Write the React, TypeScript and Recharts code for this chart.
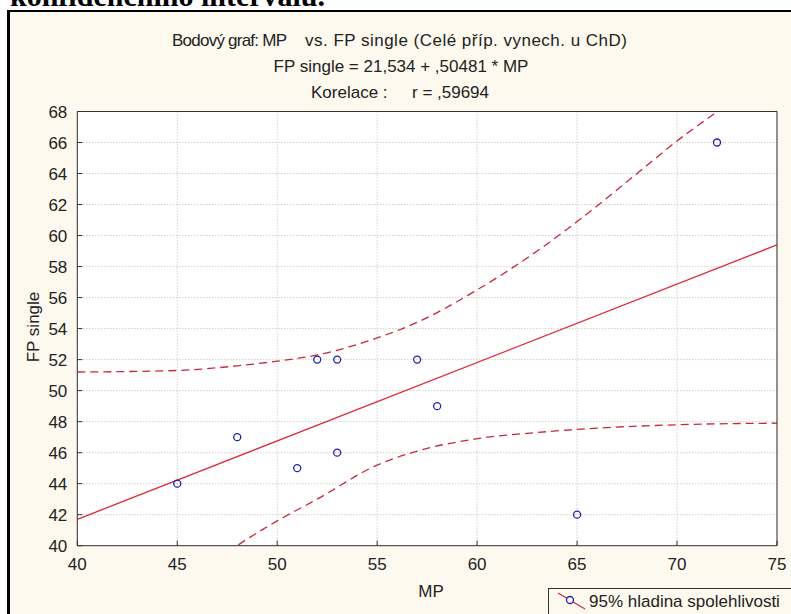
import React from "react";
import {
  ComposedChart,
  XAxis,
  YAxis,
  CartesianGrid,
  Line,
  Scatter,
} from "recharts";

// tick labels
const xTicks = [40, 45, 50, 55, 60, 65, 70, 75];
const yTicks = [40, 42, 44, 46, 48, 50, 52, 54, 56, 58, 60, 62, 64, 66, 68];

// observed cases (MP vs FP single)
const pointMP = [45, 48, 51, 52, 53, 53, 57, 58, 65, 72];
const pointFP = [44, 47, 45, 52, 52, 46, 52, 49, 42, 66];

// fitted line, read at the plot edges
const fitMP = [40, 75];
const fitFP = [41.7, 59.4];

// 95% band, upper and lower dashed curves
const upperMP = [40, 45, 48, 50, 52, 55, 57, 60, 63, 65, 68, 70, 72, 74];
const upperFP = [51.2, 51.3, 51.6, 51.9, 52.3, 53.4, 54.4, 56.5, 59.0, 60.9, 64.0, 66.1, 68.0, 70.0];
const lowerMP = [46, 48, 50, 52, 55, 57, 60, 63, 65, 70, 75];
const lowerFP = [38.0, 40.0, 41.6, 43.0, 45.2, 46.1, 46.9, 47.3, 47.5, 47.8, 47.9];

const zip = (xs: number[], ys: number[]) => xs.map((x, i) => ({ x, y: ys[i] }));

const points = zip(pointMP, pointFP);
const fit = zip(fitMP, fitFP);
const upper = zip(upperMP, upperFP);
const lower = zip(lowerMP, lowerFP);

const FONT = "'Liberation Sans', Arial, sans-serif";
const CREAM = "#fdf9ee";
const RED = "#dc2836";
const BAND = "#c8283c";
const BLUE = "#2020b0";
const AXIS = "#333";

const BottomTick = ({ x, y, payload }: any) => (
  <g>
    <line x1={x} x2={x} y1={y} y2={y - 5} stroke={AXIS} />
    <text x={x} y={y + 24} textAnchor="middle" fontSize={17} fontFamily={FONT} fill="#222">
      {payload.value}
    </text>
  </g>
);

const LeftTick = ({ x, y, payload }: any) => (
  <g>
    <line x1={x} x2={x + 5} y1={y} y2={y} stroke={AXIS} />
    <text x={x - 10} y={y + 6} textAnchor="end" fontSize={17} fontFamily={FONT} fill="#222">
      {payload.value}
    </text>
  </g>
);

const TopTick = ({ x, y }: any) => (
  <line x1={x} x2={x} y1={y} y2={y + 5} stroke={AXIS} />
);

const RightTick = ({ x, y }: any) => (
  <line x1={x} x2={x - 5} y1={y} y2={y} stroke={AXIS} />
);

const Dot = ({ cx, cy }: any) => (
  <circle cx={cx} cy={cy} r={3.5} fill="none" stroke={BLUE} strokeWidth={1.3} />
);

export default function App() {
  return (
    <div
      style={{
        position: "absolute",
        left: 0,
        top: 0,
        width: 791,
        height: 614,
        overflow: "hidden",
        background: "#fff",
      }}
    >
      <svg width={791} height={614} style={{ position: "absolute", left: 0, top: 0 }}>
        <text x={10} y={6} fontSize={30} fontWeight="bold" fontFamily="'Liberation Serif', 'Times New Roman', serif" fill="#000">
          konfidenčního intervalu.
        </text>
        <rect x={8.5} y={11} width={800} height={620} fill={CREAM} stroke="#000" strokeWidth={2} />
        <rect x={7} y={10} width={3} height={620} fill="#000" />
        <g fontFamily={FONT} fontSize={17} fill="#222">
          <text x={172} y={46} textLength={115} lengthAdjust="spacing">Bodový graf: MP</text>
          <text x={305} y={46} textLength={322} lengthAdjust="spacing">vs. FP single (Celé příp. vynech. u ChD)</text>
          <text x={401} y={72} textAnchor="middle">FP single = 21,534 + ,50481 * MP</text>
          <text x={311} y={98}>Korelace :</text>
          <text x={412} y={98}>r = ,59694</text>
          <text x={431} y={597} textAnchor="middle">MP</text>
          <text x={39} y={327} textAnchor="middle" transform="rotate(-90 39 327)">FP single</text>
        </g>
        <rect x={548.5} y={588.5} width={300} height={40} fill={CREAM} stroke={AXIS} />
        <line x1={558} y1={593} x2={585} y2={609} stroke={BAND} strokeWidth={1.2} />
        <circle cx={570} cy={600} r={3.5} fill={CREAM} stroke={BLUE} strokeWidth={1.3} />
        <text x={589} y={607} fontFamily={FONT} fontSize={17} fill="#222">
          95% hladina spolehlivosti
        </text>
      </svg>
      <div style={{ position: "absolute", left: 11, top: 12 }}>
        <ComposedChart
          width={780}
          height={602}
          margin={{ top: 98.5, right: 13, bottom: 38.3, left: 26.3 }}
        >
          <CartesianGrid stroke="#b8b8b8" strokeDasharray="1 2" fill="#fff" />
          <XAxis
            dataKey="x"
            type="number"
            domain={[40, 75]}
            ticks={xTicks}
            allowDataOverflow
            height={30}
            tickSize={0}
            tickMargin={0}
            stroke={AXIS}
            tick={<BottomTick />}
          />
          <XAxis
            xAxisId="top"
            orientation="top"
            type="number"
            domain={[40, 75]}
            ticks={xTicks}
            height={1}
            tickSize={0}
            tickMargin={0}
            stroke={AXIS}
            tick={<TopTick />}
          />
          <YAxis
            dataKey="y"
            type="number"
            domain={[40, 68]}
            ticks={yTicks}
            allowDataOverflow
            width={40}
            tickSize={0}
            tickMargin={0}
            stroke={AXIS}
            tick={<LeftTick />}
          />
          <YAxis
            yAxisId="right"
            orientation="right"
            type="number"
            domain={[40, 68]}
            ticks={yTicks}
            width={1}
            tickSize={0}
            tickMargin={0}
            stroke={AXIS}
            tick={<RightTick />}
          />
          <Line
            data={upper}
            dataKey="y"
            type="monotone"
            stroke={BAND}
            strokeWidth={1.3}
            strokeDasharray="8 5"
            dot={false}
            isAnimationActive={false}
          />
          <Line
            data={lower}
            dataKey="y"
            type="monotone"
            stroke={BAND}
            strokeWidth={1.3}
            strokeDasharray="8 5"
            dot={false}
            isAnimationActive={false}
          />
          <Line
            data={fit}
            dataKey="y"
            type="linear"
            stroke={RED}
            strokeWidth={1.3}
            dot={false}
            isAnimationActive={false}
          />
          <Scatter data={points} dataKey="y" shape={<Dot />} isAnimationActive={false} />
        </ComposedChart>
      </div>
    </div>
  );
}
